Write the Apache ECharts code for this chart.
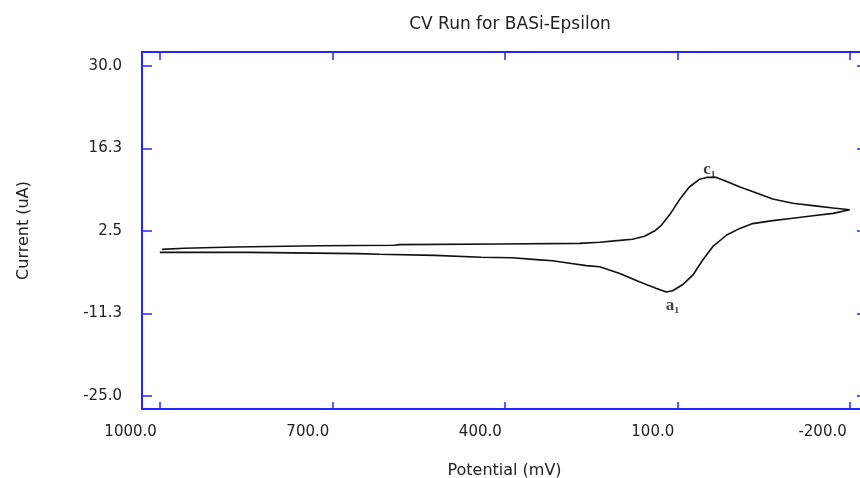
<!DOCTYPE html>
<html><head><meta charset="utf-8">
<script src="https://cdn.jsdelivr.net/npm/echarts@6/dist/echarts.min.js"></script>
<style>html,body{margin:0;padding:0;background:#fff;}#chart{width:860px;height:478px;}</style>
</head><body><div id="chart"></div>
<script>
const titleText = 'CV Run for BASi-Epsilon';
const xAxisName = 'Potential (mV)';
const yAxisName = 'Current (uA)';
const xTickValues = [1000, 700, 400, 100, -200];
const xTickLabels = ['1000.0', '700.0', '400.0', '100.0', '-200.0'];
const yTickValues = [30, 16.25, 2.5, -11.25, -25];
const yTickLabels = ['30.0', '16.3', '2.5', '-11.3', '-25.0'];
const xRange = [-230, 1031];
const yRange = [-27.2, 32.3];

// forward (cathodic) sweep: 1000 mV -> -200 mV
const forwardPotential = [996, 958, 869, 723, 592, 583, 409, 270, 235, 200, 178, 157, 139, 127, 113, 96, 79, 61, 49, 32, 14, -9, -38, -66, -101, -136, -171, -200];
const forwardCurrent = [-0.6, -0.4, -0.2, 0.0, 0.1, 0.2, 0.3, 0.4, 0.6, 0.9, 1.1, 1.6, 2.5, 3.5, 5.2, 7.7, 9.8, 11.1, 11.4, 11.4, 10.7, 9.8, 8.8, 7.8, 7.1, 6.7, 6.3, 6.0];
// reverse (anodic) sweep: -200 mV -> 1000 mV
const reversePotential = [-171, -136, -101, -66, -31, -9, 14, 38, 56, 73, 91, 108, 119, 136, 166, 200, 235, 258, 287, 317, 345, 387, 441, 522, 618, 656, 844, 1000];
const reverseCurrent = [5.4, 5.0, 4.6, 4.2, 3.7, 2.9, 1.8, -0.1, -2.4, -4.9, -6.5, -7.5, -7.7, -7.1, -6.0, -4.6, -3.5, -3.3, -2.9, -2.5, -2.3, -2.0, -1.9, -1.6, -1.4, -1.3, -1.1, -1.1];

const peakLabels = ['c\u2081', 'a\u2081'];
const peakLabelPotential = [44, 108];
const peakLabelCurrent = [12.7, -10.0];

const frameColor = '#2424ff';
const textColor = '#222';
const font = 'DejaVu Sans, Verdana, sans-serif';

const curve = forwardPotential.map((x, i) => [x, forwardCurrent[i]])
  .concat(reversePotential.map((x, i) => [x, reverseCurrent[i]]));
const peaks = peakLabels.map((t, i) => [peakLabelPotential[i], peakLabelCurrent[i], t]);

const chart = echarts.init(document.getElementById('chart'));
const axisLine = { show: true, onZero: false, lineStyle: { color: frameColor, width: 2 } };
const baseX = {
  type: 'value', min: xRange[0], max: xRange[1], inverse: true,
  splitLine: { show: false }, axisLine: axisLine
};
const baseY = {
  type: 'value', min: yRange[0], max: yRange[1],
  splitLine: { show: false }, axisLine: axisLine
};
chart.setOption({
  backgroundColor: '#fff',
  animation: false,
  title: {
    text: titleText, left: 505, textAlign: 'center', top: 11,
    textStyle: { fontFamily: font, fontSize: 17, fontWeight: 'normal', color: textColor }
  },
  grid: { left: 142, top: 52, width: 725, height: 357, show: false, containLabel: false, outerBoundsMode: 'none' },
  xAxis: [
    Object.assign({}, baseX, {
      position: 'bottom',
      name: xAxisName, nameLocation: 'middle', nameGap: 54,
      nameTextStyle: { fontFamily: font, fontSize: 16, color: textColor },
      axisTick: { show: true, inside: true, length: 7, customValues: xTickValues, lineStyle: { color: frameColor, width: 1.5 } },
      axisLabel: {
        show: true, customValues: xTickValues, margin: 16, align: 'right', padding: [0, 3, 0, 0],
        fontFamily: font, fontSize: 15, color: textColor,
        formatter: v => xTickLabels[xTickValues.indexOf(v)]
      }
    }),
    Object.assign({}, baseX, {
      position: 'top',
      axisTick: { show: true, inside: true, length: 8, customValues: xTickValues, lineStyle: { color: frameColor, width: 1.5 } },
      axisLabel: { show: false }
    })
  ],
  yAxis: [
    Object.assign({}, baseY, {
      position: 'left',
      name: yAxisName, nameLocation: 'middle', nameGap: 110,
      nameTextStyle: { fontFamily: font, fontSize: 16, color: textColor },
      axisTick: { show: true, inside: true, length: 10, customValues: yTickValues, lineStyle: { color: frameColor, width: 1.5 } },
      axisLabel: {
        show: true, customValues: yTickValues, margin: 20,
        fontFamily: font, fontSize: 15, color: textColor,
        formatter: v => yTickLabels[yTickValues.indexOf(v)]
      }
    }),
    Object.assign({}, baseY, {
      position: 'right',
      axisTick: { show: true, inside: true, length: 10, customValues: yTickValues, lineStyle: { color: frameColor, width: 1.5 } },
      axisLabel: { show: false }
    })
  ],
  series: [
    {
      type: 'line', xAxisIndex: 0, yAxisIndex: 0, data: curve,
      showSymbol: false, symbol: 'none', smooth: false,
      lineStyle: { color: '#111', width: 1.6 }
    },
    {
      type: 'scatter', xAxisIndex: 0, yAxisIndex: 0, data: peaks,
      symbolSize: 0, silent: true,
      label: {
        show: true, position: 'inside',
        formatter: p => p.data[2],
        fontFamily: 'Liberation Serif, DejaVu Serif, serif', fontWeight: 'bold', fontSize: 17, color: '#111'
      }
    }
  ]
});
</script>
</body></html>
